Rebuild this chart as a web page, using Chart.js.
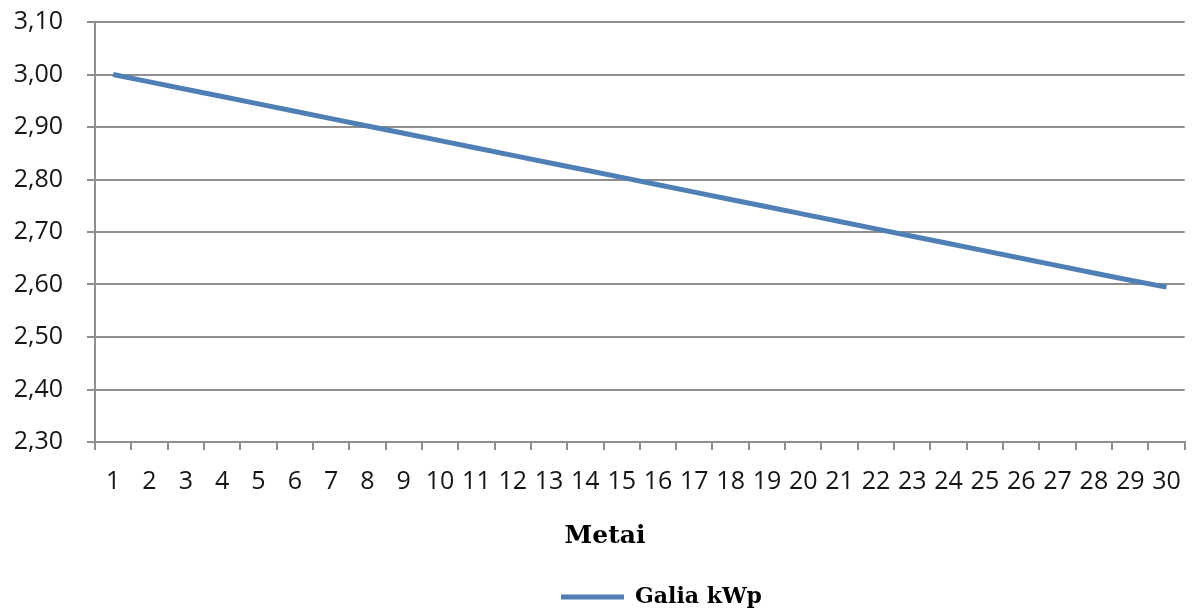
<!DOCTYPE html>
<html>
<head>
<meta charset="utf-8">
<script src="https://cdn.jsdelivr.net/npm/chart.js@4.4.1/dist/chart.umd.min.js"></script>
<style>
  html, body { margin: 0; padding: 0; background: #fff; }
  #wrap { width: 1198px; height: 610px; }
</style>
</head>
<body>
<div id="wrap"><canvas id="chart" width="1198" height="610"></canvas></div>
<script>
// data
const years = ['1','2','3','4','5','6','7','8','9','10','11','12','13','14','15','16','17','18','19','20','21','22','23','24','25','26','27','28','29','30'];
const power = [3.000, 2.986, 2.972, 2.958, 2.944, 2.930, 2.916, 2.902, 2.888, 2.874,
               2.860, 2.846, 2.832, 2.818, 2.804, 2.790, 2.776, 2.762, 2.748, 2.734,
               2.720, 2.706, 2.692, 2.678, 2.664, 2.650, 2.636, 2.622, 2.608, 2.595];
const yMin = 2.3, yMax = 3.1, yStep = 0.1;

const lineColor = '#4f7fb5';
const gridColor = '#8e8e8e';
const labelFont = { family: "'Open Sans', sans-serif", size: 25 };
const serifBold = { family: "'DejaVu Serif', serif", weight: 'bold' };

// legend in the reference sits right of centre and a bit lower
const shiftLegend = {
  id: 'shiftLegend',
  afterLayout(chart) {
    const lg = chart.legend;
    if (!lg) return;
    lg.left += 68;
    lg.right += 68;
    lg.top += 8;
    lg.bottom += 8;
  },
};

new Chart(document.getElementById('chart'), {
  type: 'line',
  data: {
    labels: years,
    datasets: [{
      label: 'Galia kWp',
      data: power,
      borderColor: lineColor,
      backgroundColor: lineColor,
      borderWidth: 5,
      pointRadius: 0,
      tension: 0,
    }],
  },
  plugins: [shiftLegend],
  options: {
    responsive: false,
    animation: false,
    layout: { padding: { top: 22, right: 11, left: 0, bottom: 0 } },
    plugins: {
      tooltip: { enabled: false },
      legend: {
        position: 'bottom',
        labels: {
          color: '#000',
          font: { ...serifBold, size: 22 },
          boxWidth: 63,
          boxHeight: 5,
          padding: 2,
          generateLabels: chart => chart.data.datasets.map((d, i) => ({
            text: d.label,
            fillStyle: d.borderColor,
            strokeStyle: d.borderColor,
            lineWidth: 0,
            datasetIndex: i,
          })),
        },
      },
    },
    scales: {
      x: {
        offset: true,
        grid: {
          display: true,
          offset: true,
          drawOnChartArea: false,
          color: gridColor,
          lineWidth: 2,
          tickLength: 8,
        },
        border: { color: gridColor, width: 2 },
        ticks: { color: '#151515', font: labelFont, maxRotation: 0, autoSkip: false, padding: 17 },
        title: {
          display: true,
          text: 'Metai\u00a0\u00a0\u00a0\u00a0\u00a0\u00a0\u00a0\u00a0',
          color: '#000',
          font: { ...serifBold, size: 25 },
          padding: { top: 7, bottom: 25 },
        },
      },
      y: {
        min: yMin,
        max: yMax,
        afterFit: s => { s.width = 95; s.paddingTop = 0; s.paddingBottom = 0; },
        afterBuildTicks: s => {
          const t = [];
          for (let v = yMin; v <= yMax + 1e-9; v += yStep) t.push({ value: Math.round(v * 100) / 100 });
          s.ticks = t;
        },
        grid: { color: gridColor, lineWidth: 2, tickLength: 8 },
        border: { color: gridColor, width: 2 },
        ticks: {
          color: '#151515',
          font: labelFont,
          padding: 24,
          callback: v => v.toFixed(2).replace('.', ','),
        },
      },
    },
  },
});
</script>
</body>
</html>
